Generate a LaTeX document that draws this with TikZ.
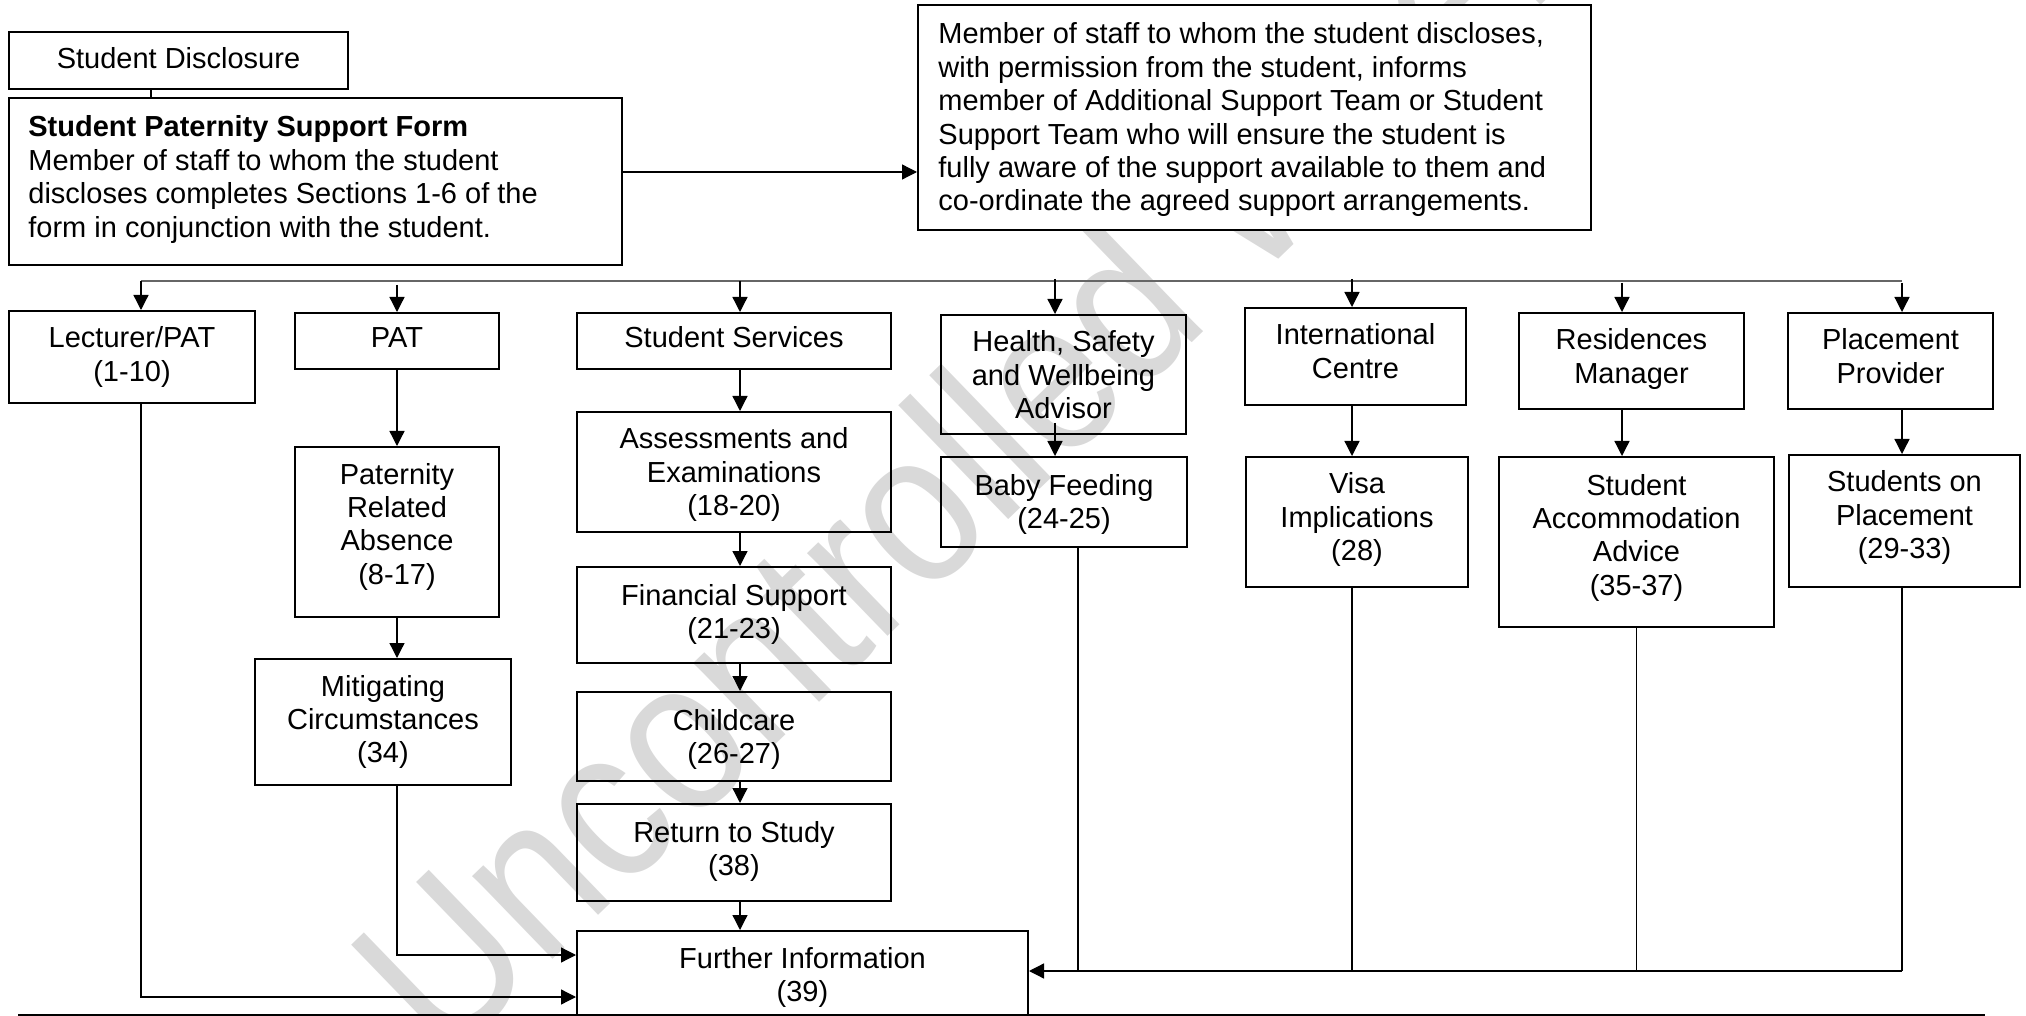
\documentclass[tikz,border=0pt]{standalone}
\usepackage{fontspec}
\setmainfont{Liberation Sans}
\usetikzlibrary{arrows.meta,fit,calc}
\newcommand\fs{\fontsize{14.5pt}{16.7pt}\selectfont}
\newcommand\ct[1]{\parbox[t]{12cm}{\centering #1}}
\newcommand\lt[2]{\parbox[t]{#1}{\raggedright #2}}
\begin{document}
\begin{tikzpicture}[x=0.5pt,y=-0.5pt,
  box/.style={draw, line width=1pt, inner sep=0pt},
  tx/.style={anchor=base, inner sep=0pt, font=\fs},
  txl/.style={anchor=base west, inner sep=0pt, font=\fs},
  con/.style={line width=0.65pt},
  arr/.style={con, -{Triangle[length=7.5pt,width=7.5pt]}},
  bus/.style={line width=0.85pt, draw=black!60},
]
\useasboundingbox (0,0) rectangle (2026,1016);
% watermark
\begin{scope}
\clip (0,0) rectangle (2026,1016);
\node[rotate=44, anchor=base west, inner sep=0pt, text=black!15,
  font=\fontsize{95pt}{95pt}\selectfont] (wm) at (445,1064) {\scalebox{1}[1.15]{Uncontrolled When}};
\end{scope}

% top boxes
\node[box, fit={(9,32) (348,89)}] (sd) {};
\node[tx] (sd-t) at ([yshift=-19pt]sd.north) {\ct{Student Disclosure}};
\node[box, fit={(9,98) (622,265)}] (form) {};
\node[txl] (form-t) at ([xshift=10pt,yshift=-20pt]form.north west)
  {\lt{11cm}{\textbf{Student Paternity Support Form}\\Member of staff to whom the student\\discloses completes Sections 1-6 of the\\form in conjunction with the student.}};
\node[box, fill=white, fit={(918,5) (1591,230)}] (right) {};
\node[txl] (right-t) at ([xshift=10.5pt,yshift=-20pt]right.north west)
  {\lt{12cm}{Member of staff to whom the student discloses,\\with permission from the student, informs\\member of Additional Support Team or Student\\Support Team who will ensure the student is\\fully aware of the support available to them and\\co-ordinate the agreed support arrangements.}};

% row boxes
\node[box, fit={(9,311) (255,403)}] (lect) {};
\node[tx] at ([yshift=-19pt]lect.north) {\ct{Lecturer/PAT\\(1-10)}};
\node[box, fit={(295,313) (499,369)}] (pat) {};
\node[tx] at ([yshift=-18pt]pat.north) {\ct{PAT}};
\node[box, fit={(577,313) (891,369)}] (ss) {};
\node[tx] at ([yshift=-18pt]ss.north) {\ct{Student Services}};
\node[box, fit={(941,315) (1186,434)}] (hsw) {};
\node[tx] at ([yshift=-19pt]hsw.north) {\ct{Health, Safety\\and Wellbeing\\Advisor}};
\node[box, fit={(1245,308) (1466,405)}] (intl) {};
\node[tx] at ([yshift=-19pt]intl.north) {\ct{International\\Centre}};
\node[box, fit={(1519,313) (1744,409)}] (res) {};
\node[tx] at ([yshift=-19pt]res.north) {\ct{Residences\\Manager}};
\node[box, fit={(1788,313) (1993,409)}] (pp) {};
\node[tx] at ([yshift=-19pt]pp.north) {\ct{Placement\\Provider}};

% second level
\node[box, fit={(295,447) (499,617)}] (pra) {};
\node[tx] at ([yshift=-19pt]pra.north) {\ct{Paternity\\Related\\Absence\\(8-17)}};
\node[box, fit={(255,659) (511,785)}] (mit) {};
\node[tx] at ([yshift=-19pt]mit.north) {\ct{Mitigating\\Circumstances\\(34)}};
\node[box, fit={(577,412) (891,532)}] (ae) {};
\node[tx] at ([yshift=-19pt]ae.north) {\ct{Assessments and\\Examinations\\(18-20)}};
\node[box, fit={(577,567) (891,663)}] (fin) {};
\node[tx] at ([yshift=-19.5pt]fin.north) {\ct{Financial Support\\(21-23)}};
\node[box, fit={(577,692) (891,781)}] (cc) {};
\node[tx] at ([yshift=-19.5pt]cc.north) {\ct{Childcare\\(26-27)}};
\node[box, fit={(577,804) (891,901)}] (rts) {};
\node[tx] at ([yshift=-19.5pt]rts.north) {\ct{Return to Study\\(38)}};
\node[box, fit={(577,931) (1028,1015)}] (fi) {};
\node[tx] at ([yshift=-19pt]fi.north) {\ct{Further Information\\(39)}};
\node[box, fit={(941,457) (1187,547)}] (bf) {};
\node[tx] at ([yshift=-19.5pt]bf.north) {\ct{Baby Feeding\\(24-25)}};
\node[box, fit={(1246,457) (1468,587)}] (visa) {};
\node[tx] at ([yshift=-19pt]visa.north) {\ct{Visa\\Implications\\(28)}};
\node[box, fit={(1499,457) (1774,627)}] (acc) {};
\node[tx] at ([yshift=-19.5pt]acc.north) {\ct{Student\\Accommodation\\Advice\\(35-37)}};
\node[box, fit={(1789,455) (2020,587)}] (sop) {};
\node[tx] at ([yshift=-19pt]sop.north) {\ct{Students on\\Placement\\(29-33)}};

% coordinates
\coordinate (sdx) at (151,0);
\coordinate (ay) at (0,172);
\coordinate (busL) at (141,281);
\coordinate (busR) at (1902,281);
\coordinate (b1) at (141,281);
\coordinate (b2) at (397,285);
\coordinate (b3) at (740,281);
\coordinate (b4) at (1055,279);
\coordinate (b5) at (1352,279);
\coordinate (b6) at (1622,283);
\coordinate (b7) at (1902,283);
\coordinate (yl) at (0,997);
\coordinate (ym) at (0,955);
\coordinate (r1) at (1078,971);

% connectors
\draw[con] (sd.south -| sdx) -- (form.north -| sdx);
\draw[arr] (form.east |- ay) -- (right.west |- ay);
\draw[bus] (busL) -- (busR);
\draw[arr] (b1) -- (lect.north -| b1);
\draw[arr] (b2) -- (pat.north -| b2);
\draw[arr] (b3) -- (ss.north -| b3);
\draw[arr] (b4) -- (hsw.north -| b4);
\draw[arr] (b5) -- (intl.north -| b5);
\draw[arr] (b6) -- (res.north -| b6);
\draw[arr] (b7) -- (pp.north -| b7);

\draw[arr] (pat.south -| b2) -- (pra.north -| b2);
\draw[arr] (pra.south -| b2) -- (mit.north -| b2);
\draw[arr] (ss.south -| b3) -- (ae.north -| b3);
\draw[arr] (ae.south -| b3) -- (fin.north -| b3);
\draw[arr] (fin.south -| b3) -- (cc.north -| b3);
\draw[arr] (cc.south -| b3) -- (rts.north -| b3);
\draw[arr] (rts.south -| b3) -- (fi.north -| b3);
\draw[arr] ([yshift=6pt]hsw.south -| b4) -- (bf.north -| b4);
\draw[arr] (intl.south -| b5) -- (visa.north -| b5);
\draw[arr] (res.south -| b6) -- (acc.north -| b6);
\draw[arr] (pp.south -| b7) -- (sop.north -| b7);

\draw[arr] (lect.south -| b1) |- (fi.west |- yl);
\draw[arr] (mit.south -| b2) |- (fi.west |- ym);
\draw[con] (bf.south -| r1) -- (r1);
\draw[con] (visa.south -| b5) -- (b5 |- r1);
\draw[con] (acc.south) -- (acc.south |- r1);
\draw[con] (sop.south -| b7) -- (b7 |- r1);
\draw[arr] (b7 |- r1) -- (fi.east |- r1);

% bottom rule
\draw[line width=0.9pt] (18,1015) -- (1985,1015);
\end{tikzpicture}
\end{document}
